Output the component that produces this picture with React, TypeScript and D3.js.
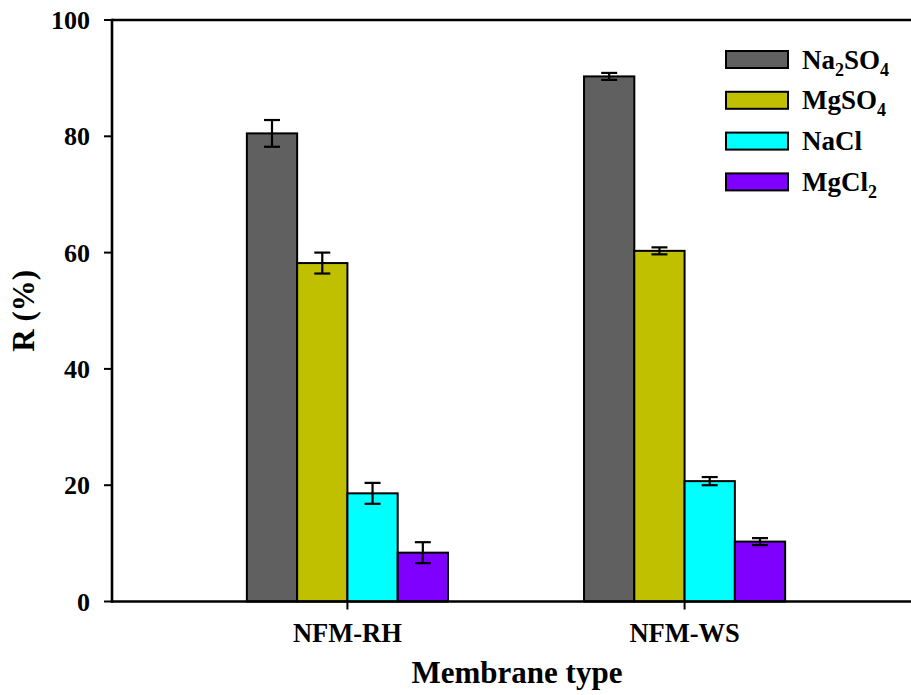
import React from "react";
import * as d3 from "d3";

const categories = ["NFM-RH", "NFM-WS"];
const seriesNames = ["Na2SO4", "MgSO4", "NaCl", "MgCl2"];
const seriesLabelParts: [string, string, string, string][] = [
  ["Na", "2", "SO", "4"],
  ["MgSO", "4", "", ""],
  ["NaCl", "", "", ""],
  ["MgCl", "2", "", ""],
];
const seriesColors = ["#606060", "#c0c000", "#00ffff", "#8000ff"];
const na2so4Values = [80.5, 90.3];
const mgso4Values = [58.2, 60.3];
const naclValues = [18.6, 20.7];
const mgcl2Values = [8.4, 10.3];
const na2so4Err = [2.3, 0.6];
const mgso4Err = [1.8, 0.6];
const naclErr = [1.8, 0.7];
const mgcl2Err = [1.8, 0.6];
const yTicks = [0, 20, 40, 60, 80, 100];

const values = [na2so4Values, mgso4Values, naclValues, mgcl2Values];
const errors = [na2so4Err, mgso4Err, naclErr, mgcl2Err];

const W = 911;
const H = 695;
const left = 112;
const right = 920;
const top = 20;
const bottom = 601.5;
const font = "'Liberation Serif', 'Times New Roman', serif";

export default function App() {
  const y = d3.scaleLinear().domain([0, 100]).range([bottom, top]);
  const x0 = d3
    .scaleBand<string>()
    .domain(categories)
    .range([left, right])
    .paddingInner(1 - 201 / 337)
    .paddingOuter(0.4);
  const x1 = d3
    .scaleBand<string>()
    .domain(seriesNames)
    .range([0, x0.bandwidth()])
    .padding(0);

  const legendX = 726;
  const legendY0 = 51;
  const legendStep = 40.8;

  return (
    <svg
      width={W}
      height={H}
      style={{ position: "fixed", left: 0, top: 0, background: "#fff" }}
      fontFamily={font}
      fontWeight="bold"
    >
      <rect x={0} y={0} width={W} height={H} fill="#fff" />
      {categories.map((c, ci) =>
        seriesNames.map((s, si) => {
          const bx = (x0(c) as number) + (x1(s) as number);
          const v = values[si][ci];
          return (
            <rect
              key={c + s}
              x={bx}
              y={y(v)}
              width={x1.bandwidth()}
              height={y(0) - y(v)}
              fill={seriesColors[si]}
              stroke="#000"
              strokeWidth={2}
            />
          );
        })
      )}
      {categories.map((c, ci) =>
        seriesNames.map((s, si) => {
          const cx = (x0(c) as number) + (x1(s) as number) + x1.bandwidth() / 2;
          const v = values[si][ci];
          const e = errors[si][ci];
          return (
            <g key={"e" + c + s} stroke="#000" strokeWidth={2.2}>
              <line x1={cx} x2={cx} y1={y(v + e)} y2={y(v - e)} />
              <line x1={cx - 8} x2={cx + 8} y1={y(v + e)} y2={y(v + e)} />
              <line x1={cx - 8} x2={cx + 8} y1={y(v - e)} y2={y(v - e)} />
            </g>
          );
        })
      )}
      <g stroke="#000" strokeWidth={2.6} fill="none">
        <line x1={left} x2={right} y1={top} y2={top} />
        <line x1={left} x2={right} y1={bottom} y2={bottom} />
        <line x1={left} x2={left} y1={top - 1.3} y2={bottom + 1.3} />
        <line x1={right} x2={right} y1={top} y2={bottom} />
      </g>
      {yTicks.map((t) => (
        <g key={"yt" + t}>
          <line x1={left - 8} x2={left} y1={y(t)} y2={y(t)} stroke="#000" strokeWidth={2} />
          <text x={90} y={y(t)} dy="0.35em" textAnchor="end" fontSize={26} fill="#000">
            {t}
          </text>
        </g>
      ))}
      {categories.map((c) => {
        const cx = (x0(c) as number) + x0.bandwidth() / 2;
        return (
          <g key={"xt" + c}>
            <line x1={cx} x2={cx} y1={bottom} y2={bottom + 8} stroke="#000" strokeWidth={2} />
            <text x={cx} y={642} textAnchor="middle" fontSize={26.5} fill="#000">
              {c}
            </text>
          </g>
        );
      })}
      <text x={517} y={683} textAnchor="middle" fontSize={31} fill="#000">
        Membrane type
      </text>
      <text
        transform={`translate(34, ${(top + bottom) / 2}) rotate(-90)`}
        textAnchor="middle"
        fontSize={31}
        fill="#000"
      >
        R (%)
      </text>
      {seriesNames.map((s, i) => {
        const ly = legendY0 + i * legendStep;
        const p = seriesLabelParts[i];
        return (
          <g key={"lg" + s}>
            <rect
              x={legendX}
              y={ly}
              width={62}
              height={17}
              fill={seriesColors[i]}
              stroke="#000"
              strokeWidth={2}
            />
            <text x={802} y={ly + 17.5} fontSize={27} fill="#000">
              <tspan>{p[0]}</tspan>
              {p[1] && (
                <tspan fontSize={18} dy={7}>
                  {p[1]}
                </tspan>
              )}
              {p[2] && <tspan dy={-7}>{p[2]}</tspan>}
              {p[3] && (
                <tspan fontSize={18} dy={7}>
                  {p[3]}
                </tspan>
              )}
            </text>
          </g>
        );
      })}
    </svg>
  );
}
